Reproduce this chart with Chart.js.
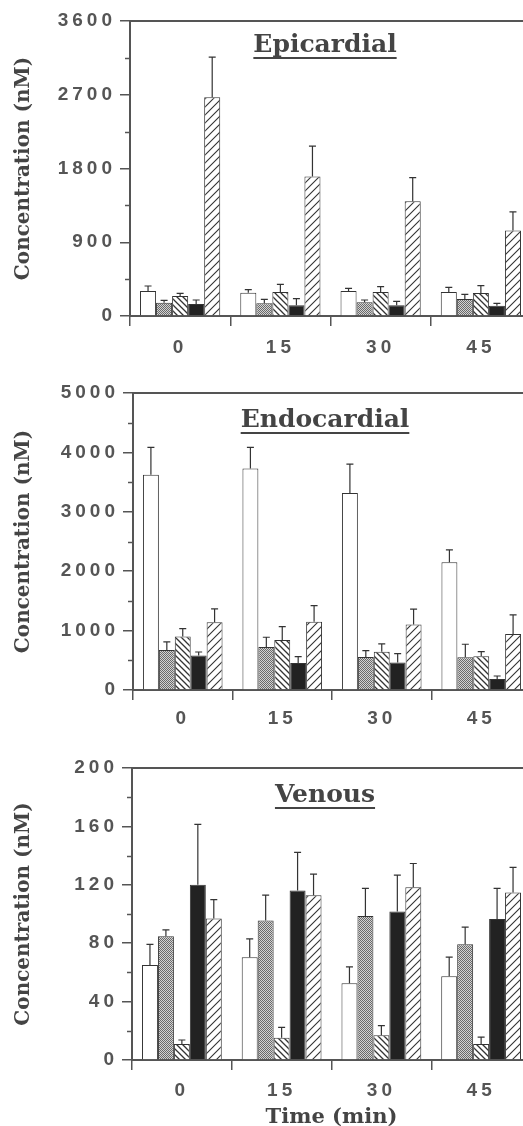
<!DOCTYPE html>
<html><head><meta charset="utf-8">
<script src="https://cdn.jsdelivr.net/npm/chart.js@4.4.1/dist/chart.umd.min.js"></script>
<style>
html,body{margin:0;padding:0;background:#fff;overflow:hidden;width:523px;height:1126px}
#wrap{position:relative;width:523px;height:1126px;overflow:hidden;background:#fff}
canvas{position:absolute;left:0}
</style></head><body><div id="wrap">
<canvas id="c1" width="545" height="372" style="top:0px"></canvas>
<canvas id="c2" width="545" height="376" style="top:372px"></canvas>
<canvas id="c3" width="545" height="392" style="top:748px"></canvas>
</div>
<script>
// ---- categories / tick labels ----
const timeLabels = ['0', '15', '30', '45'];
const seriesNames = ['Series 1', 'Series 2', 'Series 3', 'Series 4', 'Series 5'];
const epiTicks  = [0, 900, 1800, 2700, 3600];
const endoTicks = [0, 1000, 2000, 3000, 4000, 5000];
const venTicks  = [0, 40, 80, 120, 160, 200];

// ---- Epicardial (nM) ----
const epiOpen   = [305, 285, 305, 293];
const epiDots   = [162, 155, 167, 208];
const epiBack   = [244, 293, 293, 281];
const epiSolid  = [146, 130, 130, 126];
const epiFwd    = [2670, 1701, 1400, 1042];
const epiOpenErr  = [61, 36, 33, 57];
const epiDotsErr  = [29, 48, 28, 57];
const epiBackErr  = [33, 94, 65, 89];
const epiSolidErr = [49, 81, 49, 29];
const epiFwdErr   = [488, 371, 289, 228];

// ---- Endocardial (nM) ----
const endoOpen  = [3624, 3731, 3315, 2152];
const endoDots  = [674, 725, 556, 551];
const endoBack  = [899, 843, 646, 567];
const endoSolid = [579, 455, 461, 185];
const endoFwd   = [1141, 1151, 1101, 944];
const endoOpenErr  = [460, 353, 489, 208];
const endoDotsErr  = [135, 163, 107, 219];
const endoBackErr  = [135, 224, 129, 79];
const endoSolidErr = [61, 107, 151, 51];
const endoFwdErr   = [224, 270, 259, 320];

// ---- Venous (nM) ----
const venOpen  = [65, 70.4, 52.6, 57.4];
const venDots  = [84.8, 95.5, 98.7, 79.3];
const venBack  = [11, 15.3, 16.9, 11];
const venSolid = [120, 116.1, 101.7, 96.5];
const venFwd   = [96.9, 112.9, 118.4, 114.7];
const venOpenErr  = [14.2, 12.6, 11.2, 13];
const venDotsErr  = [4.3, 17.4, 18.8, 11.7];
const venBackErr  = [2.7, 7.1, 6.6, 4.6];
const venSolidErr = [41.4, 26.1, 24.9, 21];
const venFwdErr   = [13, 14.4, 16.2, 17.2];

// ---- fill patterns ----
function pat(kind){
  const c = document.createElement('canvas');
  const x = c.getContext('2d');
  if (kind === 'dots'){
    c.width = c.height = 2;
    x.fillStyle = '#d2d2d2'; x.fillRect(0,0,2,2);
    x.fillStyle = '#6a6a6a'; x.fillRect(0,0,1,1); x.fillRect(1,1,1,1);
  } else {
    const s = kind === 'back' ? 6 : 8;
    c.width = c.height = s;
    x.fillStyle = '#fff'; x.fillRect(0,0,s,s);
    x.strokeStyle = '#333'; x.lineWidth = kind === 'back' ? 1.3 : 1.1;
    x.beginPath();
    if (kind === 'back'){
      x.moveTo(-1,-1); x.lineTo(s+1,s+1);
      x.moveTo(-1,s-1); x.lineTo(1,s+1);
      x.moveTo(s-1,-1); x.lineTo(s+1,1);
    } else {
      x.moveTo(-1,s+1); x.lineTo(s+1,-1);
      x.moveTo(-1,1); x.lineTo(1,-1);
      x.moveTo(s-1,s+1); x.lineTo(s+1,s-1);
    }
    x.stroke();
  }
  return x.createPattern(c, 'repeat');
}
const fills = ['#ffffff', pat('dots'), pat('back'), '#222222', pat('fwd')];
const INK = '#444';

const deco = {
  id: 'deco',
  beforeDraw(chart){ chart.ctx.letterSpacing = '0px'; },
  afterDatasetsDraw(chart, args, o){
    const ctx = chart.ctx, ys = chart.scales.y, a = chart.chartArea;
    ctx.save();
    ctx.letterSpacing = '0px';
    // error bars
    ctx.strokeStyle = '#333'; ctx.lineWidth = 1.2;
    chart.data.datasets.forEach((ds, i) => {
      chart.getDatasetMeta(i).data.forEach((bar, j) => {
        const yt = ys.getPixelForValue(ds.data[j] + ds.errors[j]);
        ctx.beginPath();
        ctx.moveTo(bar.x, bar.y); ctx.lineTo(bar.x, yt);
        ctx.moveTo(bar.x - 3.5, yt); ctx.lineTo(bar.x + 3.5, yt);
        ctx.stroke();
      });
    });
    // minor ticks
    ctx.strokeStyle = '#555'; ctx.lineWidth = 1.5;
    for (let v = o.minor; v < ys.max; v += o.minor * 2){
      const y = Math.round(ys.getPixelForValue(v)) + 0.5;
      ctx.beginPath(); ctx.moveTo(a.left - 5, y); ctx.lineTo(a.left, y); ctx.stroke();
    }
    // top frame line
    ctx.lineWidth = 2;
    ctx.beginPath(); ctx.moveTo(a.left, a.top); ctx.lineTo(a.right, a.top); ctx.stroke();
    // panel title
    ctx.font = 'bold 25px "DejaVu Serif"';
    ctx.fillStyle = INK; ctx.textAlign = 'center'; ctx.textBaseline = 'alphabetic';
    const by = a.top + o.titleDy;
    ctx.fillText(o.title, o.titleX, by);
    const w = ctx.measureText(o.title).width;
    ctx.fillRect(o.titleX - w/2, by + 5, w, 2);
    ctx.restore();
    ctx.letterSpacing = '4px';
  },
  afterDraw(chart){ chart.ctx.letterSpacing = '0px'; }
};

function makeChart(id, cfg){
  const data = {
    labels: timeLabels,
    datasets: cfg.values.map((v, i) => ({
      label: seriesNames[i], data: v, errors: cfg.errors[i],
      backgroundColor: fills[i], borderColor: '#333', borderWidth: 1,
      barPercentage: 1, categoryPercentage: 0.8
    }))
  };
  const tickFont = {family: '"Liberation Sans", Arial', weight: 'bold', size: 19};
  return new Chart(document.getElementById(id), {
    type: 'bar',
    data,
    plugins: [deco],
    options: {
      responsive: false, animation: false, events: [],
      layout: {padding: {left: 0, top: cfg.padTop, right: 14, bottom: 0}},
      plugins: {
        legend: {display: false}, tooltip: {enabled: false},
        deco: {minor: (cfg.ticks[1] - cfg.ticks[0]) / 2, title: cfg.title, titleX: 325, titleDy: cfg.titleDy}
      },
      scales: {
        x: {
          offset: true,
          grid: {display: true, offset: true, drawOnChartArea: false, drawTicks: true, tickLength: 10, color: '#555', lineWidth: 1.5},
          border: {display: true, color: '#555', width: 2},
          ticks: {font: tickFont, color: '#555', padding: cfg.xPad, maxRotation: 0, autoSkip: false, z: 1},
          title: cfg.xTitle ? {display: true, text: cfg.xTitle, color: INK,
                 font: {family: '"DejaVu Serif"', weight: 'bold', size: 21}, padding: {top: 0, bottom: 10}} : {display: false},
          afterFit(s){ s.height = cfg.xHeight; }
        },
        y: {
          min: cfg.ticks[0], max: cfg.ticks[cfg.ticks.length - 1],
          ticks: {stepSize: cfg.ticks[1] - cfg.ticks[0], font: tickFont, color: '#555', padding: 4, z: 1,
                  callback: v => String(v)},
          grid: {display: true, drawOnChartArea: false, drawTicks: true, tickLength: 10, color: '#555', lineWidth: 1.5},
          border: {display: true, color: '#555', width: 2},
          title: {display: true, text: 'Concentration (nM)', color: INK,
                  font: {family: '"DejaVu Serif"', weight: 'bold', size: 20}, padding: {top: 12, bottom: 0}},
          afterFit(s){ s.width = cfg.left; }
        }
      }
    }
  });
}

makeChart('c1', {
  title: 'Epicardial', ticks: epiTicks,
  values: [epiOpen, epiDots, epiBack, epiSolid, epiFwd],
  errors: [epiOpenErr, epiDotsErr, epiBackErr, epiSolidErr, epiFwdErr],
  padTop: 21, xHeight: 56, xPad: 10, titleDy: 31, left: 130
});
makeChart('c2', {
  title: 'Endocardial', ticks: endoTicks,
  values: [endoOpen, endoDots, endoBack, endoSolid, endoFwd],
  errors: [endoOpenErr, endoDotsErr, endoBackErr, endoSolidErr, endoFwdErr],
  padTop: 21, xHeight: 58, xPad: 7, titleDy: 34, left: 133
});
makeChart('c3', {
  title: 'Venous', ticks: venTicks,
  values: [venOpen, venDots, venBack, venSolid, venFwd],
  errors: [venOpenErr, venDotsErr, venBackErr, venSolidErr, venFwdErr],
  padTop: 20, xHeight: 80, xPad: 9, titleDy: 34, left: 132, xTitle: 'Time (min)'
});
</script>
</body></html>
